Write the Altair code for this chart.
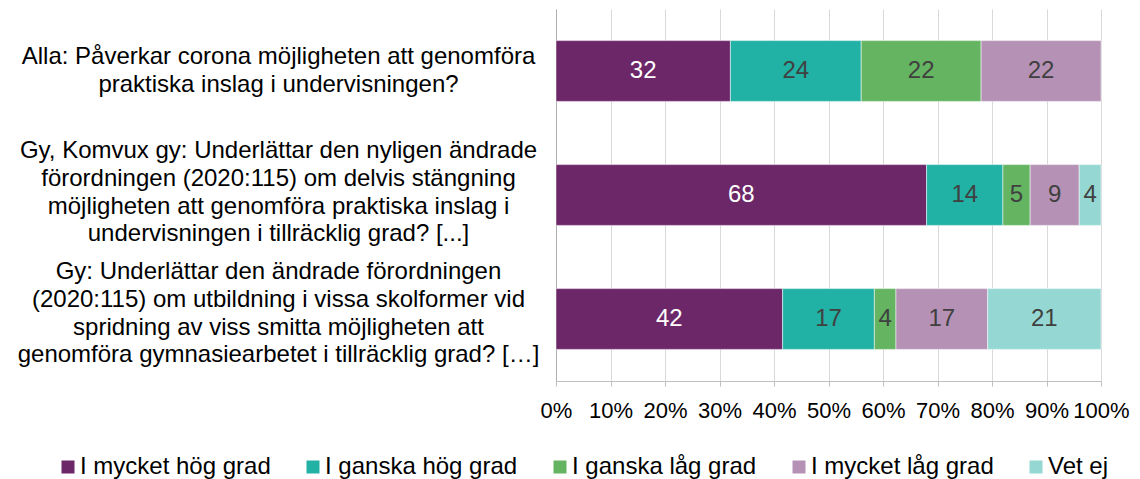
import altair as alt
import pandas as pd

FONT = "Liberation Sans"

questions = [
    "Alla: Påverkar corona möjligheten att genomföra|praktiska inslag i undervisningen?",
    "Gy, Komvux gy: Underlättar den nyligen ändrade|förordningen (2020:115) om delvis stängning|möjligheten att genomföra praktiska inslag i|undervisningen i tillräcklig grad? [...]",
    "Gy: Underlättar den ändrade förordningen|(2020:115) om utbildning i vissa skolformer vid|spridning av viss smitta möjligheten att|genomföra gymnasiearbetet i tillräcklig grad? […]",
]
categories = ["I mycket hög grad", "I ganska hög grad", "I ganska låg grad", "I mycket låg grad", "Vet ej"]
colors = ["#6C2769", "#22B1A5", "#64B461", "#B592B5", "#95D8D3"]

values_q1 = [32, 24, 22, 22, None]
values_q2 = [68, 14, 5, 9, 4]
values_q3 = [42, 17, 4, 17, 21]

rows = []
for q, vals in zip(questions, [values_q1, values_q2, values_q3]):
    for i, (c, v) in enumerate(zip(categories, vals)):
        if v is None:
            continue
        rows.append({"q": q, "cat": c, "order": i, "v": v})
df = pd.DataFrame(rows)

base = alt.Chart(df).transform_stack(
    stack="v", groupby=["q"], as_=["x0", "x1"], offset="normalize",
    sort=[alt.SortField("order", order="ascending")],
).transform_calculate(mid="(datum.x0 + datum.x1) / 2")

yenc = alt.Y(
    "q:N", sort=questions, title=None,
    scale=alt.Scale(paddingInner=0.51, paddingOuter=0.255),
    axis=alt.Axis(
        labelExpr="split(datum.label, '|')", labelAlign="center", labelBaseline="middle",
        labelPadding=278, ticks=False, tickSize=0, labelFontSize=24, labelFont=FONT,
        labelColor="#000000", labelLimit=0, labelLineHeight=27.75,
        labelOffset={
            "condition": [
                {"test": "substring(datum.value, 0, 4) == 'Alla'", "value": -14},
                {"test": "substring(datum.value, 0, 3) == 'Gy,'", "value": -44},
            ],
            "value": -47,
        },
        domainColor="#B0B0B0", domainWidth=1, grid=False,
    ),
)

bars = base.mark_bar(stroke="white", strokeWidth=0.5).encode(
    x=alt.X(
        "x0:Q", scale=alt.Scale(domain=[0, 1], nice=False), title=None,
        axis=alt.Axis(
            format="%", values=[i / 10 for i in range(11)], labelFontSize=22, labelFont=FONT,
            labelColor="#000000", labelPadding=14, tickSize=5, tickColor="#BFBFBF",
            domainColor="#BFBFBF", gridColor="#D9D9D9", gridWidth=1, labelFlush=False,
            labelOverlap=False,
        ),
    ),
    x2="x1:Q",
    y=yenc,
    color=alt.Color(
        "cat:N", scale=alt.Scale(domain=categories, range=colors),
        legend=alt.Legend(
            orient="none", legendX=-500, legendY=446, direction="horizontal", columns=5,
            symbolType="square", symbolSize=169, symbolStrokeWidth=0, labelFontSize=24,
            labelFont=FONT, labelColor="#000000", columnPadding=30, padding=0, title=None,
            labelLimit=0, labelOffset=0,
        ),
    ),
)

texts = base.mark_text(fontSize=24, font=FONT).encode(
    x="mid:Q",
    y=alt.Y("q:N", sort=questions),
    text="v:Q",
    color=alt.condition(alt.datum.cat == categories[0], alt.value("white"), alt.value("#404040")),
)

chart = alt.layer(bars, texts).properties(
    width=545, height=372, autosize="none",
    padding={"left": 548, "top": 1, "right": 31, "bottom": 100},
).configure_view(stroke=None)

chart.save("out.html", embed_options={"renderer": "svg", "actions": False})
